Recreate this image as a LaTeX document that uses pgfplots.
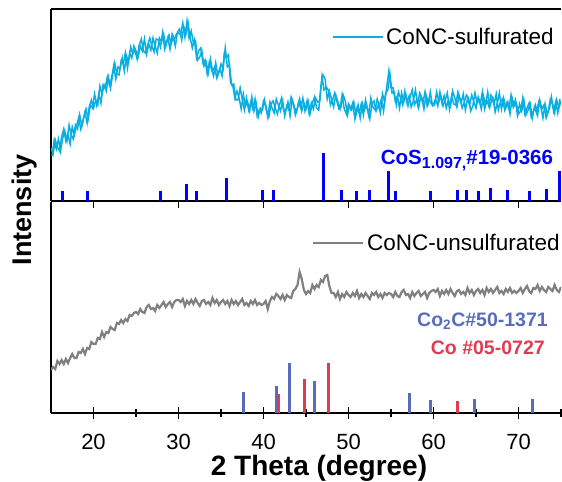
\documentclass[border=0pt]{standalone}
\usepackage{pgfplots}
\pgfplotsset{compat=1.18}
\usepackage{fontspec}
\setmainfont{Liberation Sans}
\definecolor{cyanline}{RGB}{10,174,224}
\definecolor{cotwoc}{RGB}{88,108,188}
\definecolor{cored}{RGB}{222,60,80}
\definecolor{grayline}{RGB}{128,128,128}
\pgfplotsset{panel/.style={scale only axis, width=510bp, xmin=15, xmax=75, ymin=0,
  anchor=south west,
  axis line style={line width=1.2bp, black},
  every tick/.style={black, line width=1.2bp},
  ytick=\empty, xtick={20,30,...,70},
  tick label style={font=\fontsize{22bp}{26bp}\selectfont},
  /pgf/number format/assume math mode=true,
  legend style={draw=none, fill=none, font=\fontsize{22.5bp}{26bp}\selectfont, inner sep=0pt, column sep=0pt, nodes={inner sep=2.5bp}},
  legend image code/.code={\draw[#1] (0bp,0bp) -- (50bp,0bp);}}}
\begin{document}
\begin{tikzpicture}[x=1bp,y=1bp]
\useasboundingbox (0,0) rectangle (562,482);
% ---------- top panel ----------
\begin{axis}[panel, at={(60,281)}, height=192bp, ymax=192,
  axis x line*=box, axis y line*=left, xtick pos=left, xticklabels={},
  tick align=outside, major tick length=7bp,
  legend style={at={(0.551,0.854)}, anchor=west}]
\addplot[cyanline, line width=1.5bp] coordinates {
(15.00,53)(15.25,47)(15.50,61)(15.75,54)(16.00,50)(16.25,64)(16.50,72)(16.75,60)(17.00,66)(17.25,57)(17.50,74)(17.75,66)(18.00,75)(18.25,83)(18.50,72)(18.75,80)(19.00,89)(19.25,78)(19.50,94)(19.75,101)(20.00,93)(20.25,100)(20.50,96)(20.75,115)(21.00,107)(21.25,116)(21.50,110)(21.75,124)(22.00,113)(22.25,126)(22.50,138)(22.75,127)(23.00,126)(23.25,140)(23.50,137)(23.75,148)(24.00,133)(24.25,148)(24.50,143)(24.75,155)(25.00,150)(25.25,144)(25.50,155)(25.75,150)(26.00,162)(26.25,147)(26.50,157)(26.75,151)(27.00,163)(27.25,155)(27.50,148)(27.75,163)(28.00,159)(28.25,167)(28.50,155)(28.75,163)(29.00,152)(29.25,167)(29.50,161)(29.75,167)
(30.00,168)(30.25,166)(30.50,178)(30.75,164)(31.00,180)(31.25,163)(31.50,170)(31.75,158)(32.00,160)(32.25,141)(32.50,144)(32.75,150)(33.00,135)(33.25,139)(33.50,128)(33.75,142)(34.00,130)(34.25,134)(34.50,123)(34.75,129)(35.00,137)(35.25,132)(35.50,153)(35.75,134)(36.00,136)(36.25,116)(36.50,117)(36.75,101)(37.00,101)(37.25,113)(37.50,102)(37.75,91)(38.00,103)(38.25,91)(38.50,99)(38.75,92)(39.00,102)(39.25,85)(39.50,91)(39.75,88)(40.00,100)(40.25,96)(40.50,84)(40.75,99)(41.00,93)(41.25,88)(41.50,102)(41.75,96)(42.00,90)(42.25,100)(42.50,85)(42.75,95)(43.00,91)(43.25,104)(43.50,98)(43.75,86)(44.00,93)(44.25,102)(44.50,90)(44.75,98)
(45.00,92)(45.25,100)(45.50,88)(45.75,98)(46.00,104)(46.25,93)(46.50,91)(46.75,115)(47.00,126)(47.25,122)(47.50,102)(47.75,110)(48.00,102)(48.25,94)(48.50,106)(48.75,99)(49.00,92)(49.25,106)(49.50,92)(49.75,87)(50.00,97)(50.25,92)(50.50,98)(50.75,82)(51.00,93)(51.25,88)(51.50,97)(51.75,86)(52.00,101)(52.25,91)(52.50,82)(52.75,97)(53.00,100)(53.25,90)(53.50,96)(53.75,88)(54.00,107)(54.25,99)(54.50,114)(54.75,130)(55.00,113)(55.25,113)(55.50,100)(55.75,105)(56.00,93)(56.25,108)(56.50,99)(56.75,106)(57.00,95)(57.25,104)(57.50,111)(57.75,96)(58.00,101)(58.25,93)(58.50,105)(58.75,98)(59.00,109)(59.25,95)(59.50,102)(59.75,97)
(60.00,97)(60.25,102)(60.50,95)(60.75,109)(61.00,98)(61.25,105)(61.50,93)(61.75,101)(62.00,95)(62.25,110)(62.50,103)(62.75,94)(63.00,105)(63.25,98)(63.50,107)(63.75,91)(64.00,102)(64.25,96)(64.50,106)(64.75,99)(65.00,93)(65.25,104)(65.50,97)(65.75,109)(66.00,92)(66.25,101)(66.50,95)(66.75,106)(67.00,103)(67.25,89)(67.50,98)(67.75,108)(68.00,92)(68.25,103)(68.50,93)(68.75,99)(69.00,87)(69.25,103)(69.50,95)(69.75,98)(70.00,87)(70.25,90)(70.50,103)(70.75,87)(71.00,93)(71.25,98)(71.50,84)(71.75,90)(72.00,96)(72.25,86)(72.50,101)(72.75,92)(73.00,96)(73.25,83)(73.50,90)(73.75,102)(74.00,97)(74.25,88)(74.50,101)(74.75,93)(75.00,100)};
\addlegendentry{CoNC-sulfurated}
\addplot[cyanline, line width=1.5bp, forget plot] coordinates {
(15.125,45)(15.375,61)(15.625,52)(15.875,62)(16.125,50)(16.375,63)(16.625,70)(16.875,60)(17.125,76)(17.375,66)(17.625,62)(17.875,76)(18.125,72)(18.375,86)(18.625,75)(18.875,84)(19.125,92)(19.375,82)(19.625,96)(19.875,93)(20.125,107)(20.375,96)(20.625,107)(20.875,98)(21.125,116)(21.375,113)(21.625,124)(21.875,116)(22.125,123)(22.375,135)(22.625,122)(22.875,134)(23.125,132)(23.375,143)(23.625,130)(23.875,145)(24.125,139)(24.375,154)(24.625,147)(24.875,151)(25.125,142)(25.375,156)(25.625,162)(25.875,150)(26.125,148)(26.375,156)(26.625,163)(26.875,155)(27.125,149)(27.375,162)(27.625,161)(27.875,154)(28.125,168)(28.375,152)(28.625,160)(28.875,166)(29.125,157)(29.375,164)(29.625,155)(29.875,169)
(30.125,172)(30.375,161)(30.625,174)(30.875,167)(31.125,178)(31.375,163)(31.625,153)(31.875,161)(32.125,143)(32.375,150)(32.625,153)(32.875,138)(33.125,141)(33.375,127)(33.625,139)(33.875,132)(34.125,125)(34.375,138)(34.625,126)(34.875,132)(35.125,125)(35.375,147)(35.625,143)(35.875,146)(36.125,118)(36.375,116)(36.625,103)(36.875,110)(37.125,103)(37.375,92)(37.625,107)(37.875,95)(38.125,99)(38.375,90)(38.625,104)(38.875,90)(39.125,98)(39.375,84)(39.625,93)(39.875,91)(40.125,101)(40.375,89)(40.625,84)(40.875,97)(41.125,100)(41.375,93)(41.625,87)(41.875,96)(42.125,103)(42.375,90)(42.625,91)(42.875,99)(43.125,85)(43.375,101)(43.625,94)(43.875,89)(44.125,99)(44.375,93)(44.625,103)(44.875,90)
(45.125,100)(45.375,87)(45.625,98)(45.875,92)(46.125,103)(46.375,99)(46.625,100)(46.875,124)(47.125,111)(47.375,114)(47.625,111)(47.875,96)(48.125,101)(48.375,108)(48.625,100)(48.875,92)(49.125,94)(49.375,106)(49.625,100)(49.875,86)(50.125,95)(50.375,91)(50.625,99)(50.875,86)(51.125,96)(51.375,83)(51.625,98)(51.875,91)(52.125,96)(52.375,86)(52.625,103)(52.875,94)(53.125,91)(53.375,102)(53.625,95)(53.875,102)(54.125,90)(54.375,108)(54.625,111)(54.875,127)(55.125,108)(55.375,109)(55.625,96)(55.875,109)(56.125,103)(56.375,96)(56.625,110)(56.875,99)(57.125,105)(57.375,94)(57.625,100)(57.875,111)(58.125,97)(58.375,108)(58.625,103)(58.875,92)(59.125,106)(59.375,98)(59.625,109)(59.875,95)
(60.125,96)(60.375,109)(60.625,99)(60.875,105)(61.125,95)(61.375,101)(61.625,108)(61.875,92)(62.125,105)(62.375,97)(62.625,96)(62.875,109)(63.125,102)(63.375,93)(63.625,99)(63.875,106)(64.125,103)(64.375,90)(64.625,95)(64.875,108)(65.125,98)(65.375,101)(65.625,92)(65.875,105)(66.125,96)(66.375,109)(66.625,94)(66.875,102)(67.125,97)(67.375,107)(67.625,91)(67.875,99)(68.125,102)(68.375,91)(68.625,98)(68.875,92)(69.125,106)(69.375,94)(69.625,101)(69.875,86)(70.125,97)(70.375,90)(70.625,101)(70.875,86)(71.125,91)(71.375,97)(71.625,83)(71.875,94)(72.125,88)(72.375,99)(72.625,94)(72.875,83)(73.125,97)(73.375,87)(73.625,92)(73.875,104)(74.125,90)(74.375,99)(74.625,88)(74.875,102)};
\addplot[ycomb, blue, line width=3bp, no marks, forget plot] coordinates {
(16.33,10)(19.27,10)(27.9,10)(30.92,17)(32.1,10)(35.6,23)(39.94,11)(41.16,11)(47.0,48)(49.16,11)(50.96,10)(52.49,11)(54.65,30)(55.55,10)(59.67,10)(62.8,11)(63.86,11)(65.35,10)(66.76,13)(68.7,11)(71.35,10)(73.3,12)(74.8,30)};
\node[anchor=base west, inner sep=0pt, text=blue, font=\bfseries\fontsize{20.5bp}{24bp}\selectfont] at (axis cs:53.79,36) {CoS\raisebox{-4bp}{\fontsize{16bp}{16bp}\selectfont 1.097,}\#19-0366};
\end{axis}
% ---------- bottom panel ----------
\begin{axis}[panel, at={(60,69)}, height=211bp, ymax=211,
  axis x line*=bottom, axis y line*=left,
  minor xtick={25,35,...,75}, tick align=center,
  major tick length=12bp, minor tick length=8bp,
  xticklabel style={inner sep=0pt, yshift=-15bp},
  legend style={at={(0.512,0.806)}, anchor=west}]
\addplot[grayline, line width=2.2bp] coordinates {
(15.00,43)(15.25,46)(15.50,44)(15.75,52)(16.00,49)(16.25,53)(16.50,49)(16.75,54)(17.00,50)(17.25,55)(17.50,59)(17.75,55)(18.00,55)(18.25,61)(18.50,60)(18.75,64)(19.00,59)(19.25,65)(19.50,64)(19.75,71)(20.00,69)(20.25,69)(20.50,75)(20.75,74)(21.00,81)(21.25,76)(21.50,81)(21.75,80)(22.00,86)(22.25,84)(22.50,83)(22.75,90)(23.00,89)(23.25,93)(23.50,90)(23.75,94)(24.00,92)(24.25,98)(24.50,97)(24.75,100)(25.00,101)(25.25,99)(25.50,104)(25.75,101)(26.00,100)(26.25,106)(26.50,108)(26.75,104)(27.00,105)(27.25,102)(27.50,108)(27.75,105)(28.00,108)(28.25,111)(28.50,106)(28.75,109)(29.00,111)(29.25,106)(29.50,111)(29.75,113)
(30.00,113)(30.25,111)(30.50,114)(30.75,107)(31.00,112)(31.25,109)(31.50,113)(31.75,109)(32.00,114)(32.25,110)(32.50,107)(32.75,112)(33.00,113)(33.25,109)(33.50,111)(33.75,108)(34.00,115)(34.25,110)(34.50,113)(34.75,108)(35.00,111)(35.25,113)(35.50,109)(35.75,112)(36.00,107)(36.25,113)(36.50,109)(36.75,112)(37.00,108)(37.25,111)(37.50,114)(37.75,108)(38.00,110)(38.25,107)(38.50,112)(38.75,109)(39.00,113)(39.25,108)(39.50,110)(39.75,108)(40.00,109)(40.25,112)(40.50,104)(40.75,112)(41.00,116)(41.25,114)(41.50,119)(41.75,117)(42.00,114)(42.25,118)(42.50,113)(42.75,118)(43.00,116)(43.25,115)(43.50,122)(43.75,124)(44.00,128)(44.25,141)(44.50,134)(44.75,123)
(45.00,119)(45.25,122)(45.50,120)(45.75,128)(46.00,124)(46.25,128)(46.50,126)(46.75,133)(47.00,131)(47.25,137)(47.50,138)(47.75,127)(48.00,120)(48.25,120)(48.50,116)(48.75,121)(49.00,114)(49.25,119)(49.50,116)(49.75,121)(50.00,118)(50.25,116)(50.50,120)(50.75,117)(51.00,122)(51.25,115)(51.50,119)(51.75,116)(52.00,120)(52.25,117)(52.50,114)(52.75,120)(53.00,118)(53.25,121)(53.50,116)(53.75,119)(54.00,115)(54.25,120)(54.50,118)(54.75,120)(55.00,119)(55.25,116)(55.50,121)(55.75,117)(56.00,116)(56.25,121)(56.50,123)(56.75,118)(57.00,119)(57.25,115)(57.50,121)(57.75,117)(58.00,120)(58.25,122)(58.50,117)(58.75,119)(59.00,121)(59.25,115)(59.50,120)(59.75,122)
(60.00,123)(60.25,121)(60.50,124)(60.75,117)(61.00,122)(61.25,119)(61.50,123)(61.75,119)(62.00,124)(62.25,120)(62.50,117)(62.75,122)(63.00,123)(63.25,119)(63.50,121)(63.75,118)(64.00,125)(64.25,120)(64.50,123)(64.75,118)(65.00,122)(65.25,124)(65.50,120)(65.75,123)(66.00,118)(66.25,125)(66.50,121)(66.75,124)(67.00,120)(67.25,123)(67.50,126)(67.75,120)(68.00,122)(68.25,119)(68.50,124)(68.75,121)(69.00,125)(69.25,120)(69.50,122)(69.75,120)(70.00,122)(70.25,125)(70.50,120)(70.75,124)(71.00,127)(71.25,122)(71.50,120)(71.75,125)(72.00,124)(72.25,128)(72.50,122)(72.75,126)(73.00,123)(73.25,121)(73.50,126)(73.75,124)(74.00,122)(74.25,128)(74.50,123)(74.75,121)(75.00,126)};
\addlegendentry{CoNC-unsulfurated}
\addplot[ycomb, cotwoc, line width=3bp, no marks, forget plot] coordinates {
(37.59,20.7)(41.51,26.7)(43.04,49.7)(45.98,32)(57.2,19.7)(59.67,13)(64.84,14)(71.7,14.3)};
\addplot[ycomb, cored, line width=3bp, no marks, forget plot] coordinates {
(41.74,19)(44.8,34.3)(47.62,49.7)(62.8,11.7)};
\node[anchor=base west, inner sep=0pt, text=cotwoc, font=\bfseries\fontsize{19.5bp}{23bp}\selectfont] at (axis cs:58.06,86.3) {Co\textsubscript{2}C\#50-1371};
\node[anchor=base west, inner sep=0pt, text=cored, font=\bfseries\fontsize{19.5bp}{23bp}\selectfont] at (axis cs:59.67,58) {Co \#05-0727};
\end{axis}
\node[rotate=90, anchor=base, inner sep=0pt, font=\bfseries\fontsize{27bp}{30bp}\selectfont] at (31,272) {Intensity};
\node[anchor=base, inner sep=0pt, font=\bfseries\fontsize{28bp}{32bp}\selectfont] at (319,6) {2 Theta (degree)};
\end{tikzpicture}
\end{document}
